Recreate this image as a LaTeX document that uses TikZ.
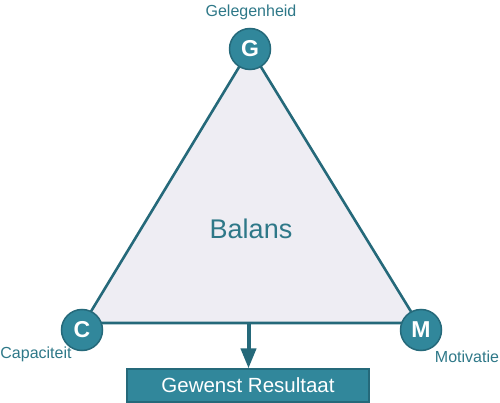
\documentclass[tikz,border=0pt]{standalone}
\usepackage{fontspec}
\setmainfont{Liberation Sans}
\usetikzlibrary{arrows.meta}
\definecolor{teal1}{HTML}{31879B}
\definecolor{tealdark}{HTML}{25697A}
\definecolor{tealtext}{HTML}{2E7888}
\definecolor{trifill}{HTML}{EEEDF3}
\tikzset{
  vcircle/.style={circle, fill=teal1, draw=tealdark, line width=1.5pt, minimum size=41pt, inner sep=0pt, text=white, font=\fontsize{23}{23}\selectfont\bfseries},
  lbl/.style={text=tealtext, font=\fontsize{16}{16}\selectfont, inner sep=0pt},
  edge/.style={draw=tealdark, line width=2.6pt, line join=round},
  resbox/.style={fill=teal1, draw=tealdark, line width=1.2pt, minimum width=242pt, minimum height=33pt, inner sep=0pt, text=white, font=\fontsize{20.5}{20.5}\selectfont}
}
\begin{document}
\begin{tikzpicture}[x=1pt,y=-1pt]
\useasboundingbox (0,0) rectangle (500,403);
\coordinate (tG) at (250,49);
\coordinate (tC) at (84,323);
\coordinate (tM) at (418,323);
\filldraw[edge, fill=trifill] (tG) -- (tC) -- (tM) -- cycle;
\node[vcircle] (G) at (250,49) {G};
\node[vcircle] (C) at (82,330) {C};
\node[vcircle] (M) at (421,330) {M};
\node[lbl] (lG) at (251,12) {Gelegenheid};
\node[lbl] (lC) at (36,354) {Capaciteit};
\node[lbl] (lM) at (467,357) {Motivatie};
\node[text=tealtext, font=\fontsize{27}{27}\selectfont, inner sep=0pt] (bal) at (251,229) {Balans};
\node[resbox] (res) at (248,385.5) {Gewenst Resultaat};
\coordinate (aS) at (248.5,323);
\draw[draw=tealdark, line width=4pt, -{Triangle[length=20pt,width=15pt]}] (aS) -- (res.north -| aS);
\end{tikzpicture}
\end{document}
